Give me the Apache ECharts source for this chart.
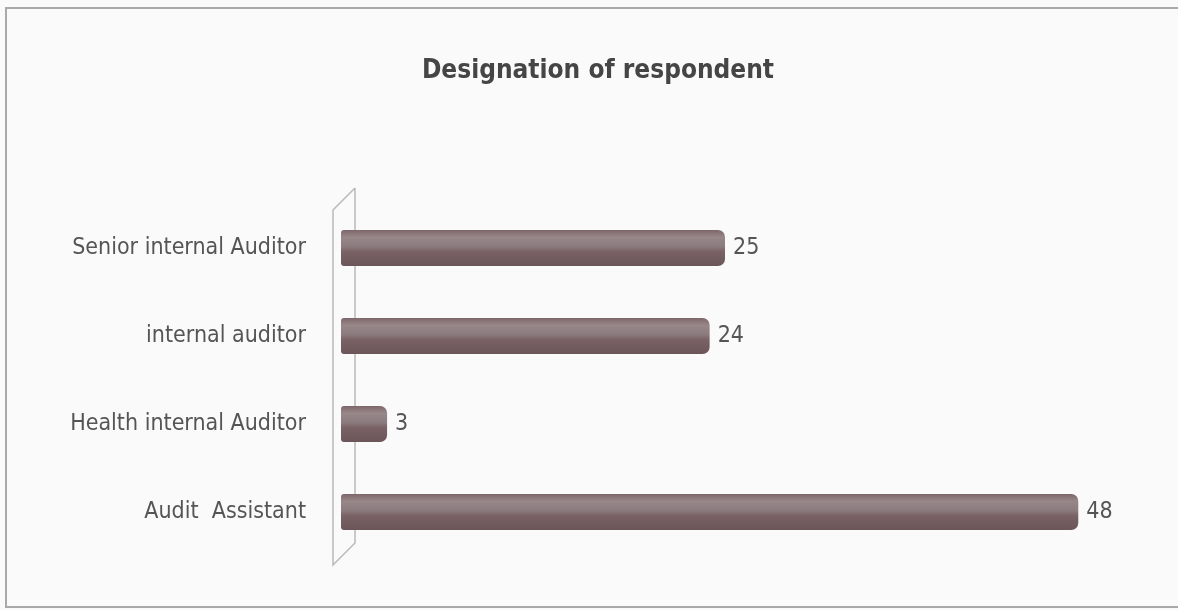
<!DOCTYPE html>
<html>
<head>
<meta charset="utf-8">
<script src="https://cdn.jsdelivr.net/npm/echarts@6/dist/echarts.min.js"></script>
<style>
  html, body { margin: 0; padding: 0; background: #fafafa; }
  #chart { width: 1178px; height: 610px; }
</style>
</head>
<body>
<div id="chart"></div>
<script>
// Respondents by designation
const categories = ['Senior internal Auditor', 'internal auditor', 'Health internal Auditor', 'Audit  Assistant'];
const counts = [25, 24, 3, 48];
const titleText = 'Designation of respondent';

const FONT = '"DejaVu Sans Condensed", "Liberation Sans Narrow", "Open Sans", sans-serif';

const chart = echarts.init(document.getElementById('chart'));

const barFill = new echarts.graphic.LinearGradient(0, 0, 0, 1, [
  { offset: 0.0, color: '#7d666a' },
  { offset: 0.2, color: '#978789' },
  { offset: 0.45, color: '#8d7c7f' },
  { offset: 0.6, color: '#7a6266' },
  { offset: 1.0, color: '#6b5559' }
]);

chart.setOption({
  backgroundColor: '#fafafa',
  animation: false,
  title: {
    text: titleText,
    left: 593,
    top: 53,
    textAlign: 'center',
    textStyle: { fontFamily: FONT, fontSize: 26, fontWeight: 'bold', color: '#454545' }
  },
  grid: { left: 341, right: 69, top: 204, bottom: 54, containLabel: false },
  xAxis: {
    type: 'value',
    min: 0,
    max: 50,
    show: false
  },
  yAxis: {
    type: 'category',
    data: categories,
    inverse: true,
    axisLine: { show: false },
    axisTick: { show: false },
    axisLabel: {
      margin: 35,
      fontFamily: FONT,
      fontSize: 23,
      color: '#555555'
    }
  },
  series: [{
    type: 'bar',
    data: counts,
    barWidth: 36,
    itemStyle: {
      color: barFill,
      borderRadius: [3, 7, 7, 3]
    },
    label: {
      show: true,
      position: 'right',
      distance: 8,
      fontFamily: FONT,
      fontSize: 23,
      color: '#555555'
    }
  }]
});

// Outer frame and the slanted 3D wall behind the category axis,
// positioned from the grid's own rectangle.
const rect = chart.getModel().getComponent('grid').coordinateSystem.getRect();
const fx = rect.x - 8, bx = rect.x + 14;
const wallTop = rect.y + 6, wallBot = rect.y + rect.height + 9;
const skew = 22;
chart.setOption({
  graphic: [
    {
      type: 'polyline',
      silent: true,
      z: -1,
      shape: { points: [[bx, wallTop - skew], [fx, wallTop], [fx, wallBot], [bx, wallBot - skew], [bx, wallTop - skew]] },
      style: { stroke: '#b9b9b9', lineWidth: 1.5, fill: 'none' }
    },
    {
      type: 'rect',
      silent: true,
      z: -2,
      shape: { x: 6, y: 8, width: 1190, height: 599 },
      style: { stroke: '#a9a9a9', lineWidth: 2, fill: 'none' }
    }
  ]
});
</script>
</body>
</html>
